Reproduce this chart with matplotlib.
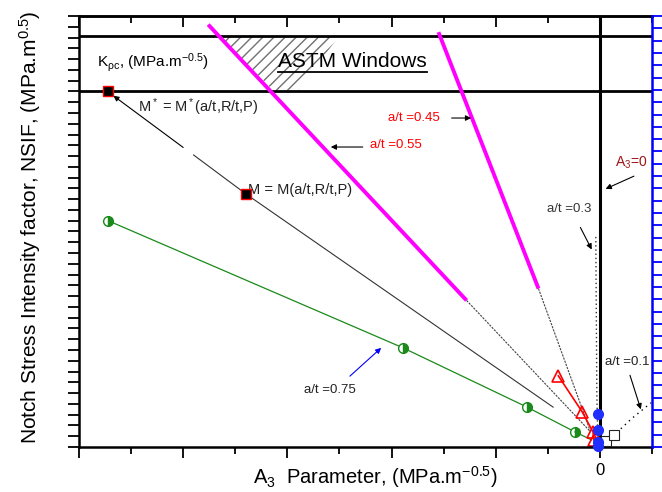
import matplotlib
matplotlib.use('Agg')
import matplotlib.pyplot as plt
from matplotlib.lines import Line2D
import numpy as np

plt.rcParams['font.family'] = ['Liberation Sans', 'DejaVu Sans']
plt.rcParams['mathtext.fontset'] = 'custom'
plt.rcParams['mathtext.rm'] = 'Liberation Sans'
plt.rcParams['mathtext.it'] = 'Liberation Sans:italic'
plt.rcParams['mathtext.bf'] = 'Liberation Sans:bold'
plt.rcParams['mathtext.default'] = 'regular'

# ---- data (x: A3 parameter, y: NSIF) ----
astm_upper = 38.1
kpc_level = 33.0

m_x = [-4.72, -3.40]                 # M* and M points
m_y = [33.0, 23.5]
mline_x = [-3.90, -3.40, -0.45]      # line after the small gap
mline_y = [27.1, 23.5, 3.7]

mag55_x = [-3.76, -1.28]
mag55_y = [39.2, 13.6]
mag55_tail_x = [-1.28, -0.09]
mag55_tail_y = [13.6, 1.4]

mag45_x = [-1.55, -0.59]
mag45_y = [38.5, 14.7]
mag45_tail_x = [-0.59, -0.09]
mag45_tail_y = [14.7, 1.4]

at03_x = [-0.04, -0.035, -0.03, -0.02]
at03_y = [19.5, 12.0, 5.0, 0.0]

green_x = [-4.72, -1.89, -0.70, -0.24]
green_y = [21.0, 9.2, 3.7, 1.4]
green_end_x = [-0.24, -0.08]
green_end_y = [1.4, 0.65]

red_x = [-0.40, -0.17, -0.067, -0.058]
red_y = [6.6, 3.25, 1.4, 0.65]

blue_x = [-0.015, -0.015, -0.015, -0.015]
blue_y = [3.1, 1.6, 0.5, 0.1]

sq_x = [0.055, 0.135]
sq_y = [0.55, 1.1]
at01_x = [0.0, 0.055, 0.135, 0.30, 0.49]
at01_y = [0.0, 0.55, 1.1, 2.6, 4.1]

hatch_x = [-3.64, -2.51, -2.90, -3.14]
hatch_y = [38.05, 38.05, 33.13, 33.13]

xticks = [-5, -4, -3, -2, -1, 0]
xtick_labels = ['', '', '', '', '', '0']

fig = plt.figure(figsize=(6.62, 4.92), dpi=100)
ax = fig.add_axes([0.1193, 0.0915, 0.8657, 0.876])
ax.set_xlim(-5, 0.5)
ax.set_ylim(0, 40)

# ASTM window
ax.axhline(astm_upper, color='black', lw=2.0)
ax.axhline(kpc_level, color='black', lw=2.0)
ax.fill(hatch_x, hatch_y, facecolor='none', edgecolor='#707070', hatch='///', lw=0)
ax.axvline(0, color='black', lw=2.2)

# M line
ax.plot(mline_x, mline_y, color='#333333', lw=0.8)
ax.plot(m_x, m_y, 's', ms=7.5, mfc='black', mec='red', mew=1, zorder=4)

# magenta
ax.plot(mag55_x, mag55_y, color='#ff00ff', lw=2.8, solid_capstyle='butt')
ax.plot(mag55_tail_x, mag55_tail_y, color='#444444', lw=0.8, ls=(0, (2, 1)))
ax.plot(mag45_x, mag45_y, color='#ff00ff', lw=2.8, solid_capstyle='butt')
ax.plot(mag45_tail_x, mag45_tail_y, color='#444444', lw=0.8, ls=(0, (2, 1)))

# a/t = 0.3
ax.plot(at03_x, at03_y, color='#333333', lw=1.0, ls=(0, (1, 2)))

# green a/t = 0.75
ax.plot(green_x, green_y, color='#1a8a1a', lw=0.9, marker='o', ms=7,
        fillstyle='right', mfc='#1a8a1a', mfcalt='white', mec='#1a8a1a')
ax.plot(green_end_x, green_end_y, color='#1a8a1a', lw=0.9)

# red triangles
ax.plot(red_x, red_y, color='red', lw=1.2, marker='^', ms=8, mfc='none', mec='red', mew=1.2)

# blue circles
ax.plot(blue_x, blue_y, 'o', ms=7, color='#1f2fff', clip_on=False, zorder=5)

# a/t = 0.1
ax.plot(at01_x, at01_y, color='black', lw=1.0, ls=(0, (1, 3)))
ax.plot(sq_x, sq_y, 's', ms=7.5, mfc='white', mec='#222222', mew=0.8, zorder=4)

# annotations
arrow = dict(arrowstyle='-|>', color='black', lw=0.8, mutation_scale=8)
ax.annotate('', xy=(-4.67, 32.6), xytext=(-4.0, 27.8),
            arrowprops=dict(arrowstyle='-|>', color='black', lw=0.8, mutation_scale=8,
                            shrinkA=0, shrinkB=0))
ax.text(-4.83, 35.7, r'K$_{\rho c}$, (MPa.m$^{-0.5}$)', fontsize=11, va='center')
astm = ax.text(-2.375, 35.8, 'ASTM Windows', fontsize=15, ha='center', va='center')
ax.text(-4.43, 31.5, r'M$^*$ = M$^*$(a/t,R/t,P)', fontsize=10.5, va='center', color='#222222')
ax.text(-3.375, 23.85, 'M = M(a/t,R/t,P)', fontsize=10.5, va='center', color='#222222')

ax.text(-1.96, 28.0, 'a/t =0.55', fontsize=9.5, color='red', ha='center', va='center')
ax.annotate('', xy=(-2.61, 27.84), xytext=(-2.25, 27.84), arrowprops=arrow)
ax.text(-1.79, 30.5, 'a/t =0.45', fontsize=9.5, color='red', ha='center', va='center')
ax.annotate('', xy=(-1.21, 30.53), xytext=(-1.45, 30.53), arrowprops=arrow)
ax.text(0.30, 26.4, r'A$_3$=0', fontsize=10, color='#a01515', ha='center', va='center')
ax.annotate('', xy=(0.03, 23.85), xytext=(0.35, 25.24), arrowprops=arrow)
ax.text(-0.30, 22.1, 'a/t =0.3', fontsize=9.5, color='#333333', ha='center', va='center')
ax.annotate('', xy=(-0.067, 18.1), xytext=(-0.20, 20.6), arrowprops=arrow)
ax.text(0.26, 7.9, 'a/t =0.1', fontsize=9.5, color='#222222', ha='center', va='center')
ax.annotate('', xy=(0.40, 3.25), xytext=(0.28, 6.9), arrowprops=arrow)
ax.text(-2.59, 5.3, 'a/t =0.75', fontsize=9.5, color='#222222', ha='center', va='center')
ax.annotate('', xy=(-2.08, 9.37), xytext=(-2.42, 6.4),
            arrowprops=dict(arrowstyle='-|>', color='blue', lw=0.8, mutation_scale=8))

# axes styling
ax.set_xticks(xticks)
ax.set_xticklabels(xtick_labels, fontsize=12)
ax.set_xticks(np.arange(-4.5, 0.6, 1.0), minor=True)
ax.set_yticks(np.arange(0, 41, 1))
ax.set_yticklabels([])
ax.tick_params(axis='x', which='major', direction='out', length=8, width=1.3)
ax.tick_params(axis='x', which='minor', direction='out', length=5, width=1.3)
ax.tick_params(axis='y', direction='out', length=8, width=1.3, right=False)
for side in ['left', 'bottom', 'top']:
    ax.spines[side].set_linewidth(1.8)
ax.spines['right'].set_visible(False)

top = ax.secondary_xaxis('top')
top.set_xticks(xticks)
top.set_xticklabels([])
top.set_xticks(np.arange(-4.5, 0.6, 1.0), minor=True)
top.tick_params(which='major', direction='in', length=8, width=1.3)
top.tick_params(which='minor', direction='in', length=5, width=1.3)
top.spines['top'].set_linewidth(1.8)

rax = ax.twinx()
rax.set_ylim(0, 35)
rax.set_yticks(np.arange(0, 36, 1))
rax.set_yticklabels([])
rax.tick_params(axis='y', direction='out', length=7, width=1.3, colors='blue')
rax.spines['right'].set_color('blue')
rax.spines['right'].set_linewidth(1.8)
for side in ['left', 'top', 'bottom']:
    rax.spines[side].set_visible(False)

ax.set_xlabel(r'A$_3$  Parameter, (MPa.m$^{-0.5}$)', fontsize=14.5)
ax.xaxis.set_label_coords(0.518, -0.04)
ax.set_ylabel(r'Notch Stress Intensity factor, NSIF, (MPa.m$^{0.5}$)', fontsize=15)
ax.yaxis.set_label_coords(-0.062, 0.51)

# underline for the ASTM label
fig.canvas.draw()
bb = astm.get_window_extent()
uy = bb.y0 - 1
fig.add_artist(Line2D([bb.x0, bb.x1], [uy, uy], transform=None, color='black', lw=1.3))

fig.savefig('out.png', dpi=100)
